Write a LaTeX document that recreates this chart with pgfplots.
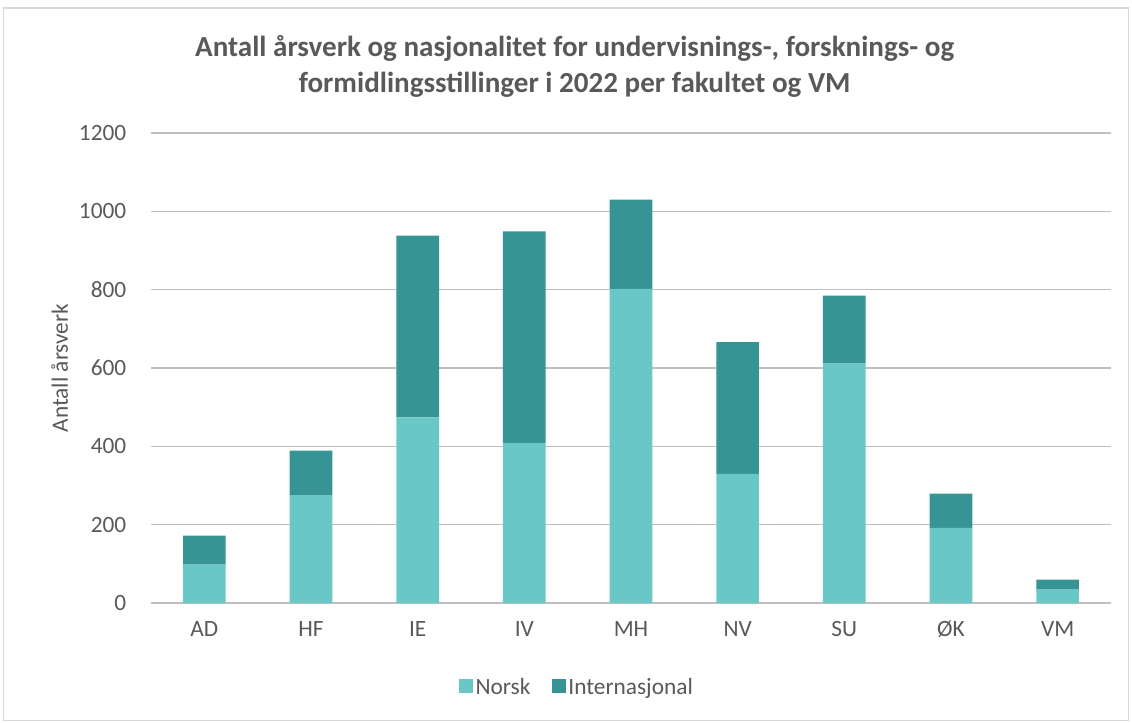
\documentclass[border=0pt]{standalone}
\usepackage{pgfplots}
\pgfplotsset{compat=1.18}
\usepackage{fontspec}
\setmainfont{Carlito}
\definecolor{norsk}{HTML}{69C8C6}
\definecolor{intl}{HTML}{369594}
\definecolor{txt}{HTML}{595959}
\definecolor{grid}{HTML}{D9D9D9}
\begin{document}
\begin{tikzpicture}
\useasboundingbox (0,0) rectangle (849pt,541.5pt);
\draw[grid, line width=0.8pt] (2.5pt,1pt) rectangle (846.5pt,535.5pt);
\node[font=\bfseries\fontsize{21.8}{27}\selectfont, text=txt, align=center] at (431pt,492pt)
  {Antall årsverk og nasjonalitet for undervisnings-, forsknings- og\\formidlingsstillinger i 2022 per fakultet og VM};
\begin{axis}[
  at={(113.25pt,89.25pt)}, anchor=south west,
  scale only axis, width=720pt, height=352.5pt,
  ybar stacked, bar width=32pt,
  xmin=-0.5, xmax=8.5, ymin=0, ymax=1200,
  ytick={0,200,...,1200},
  xtick={0,...,8},
  xticklabels={AD,HF,IE,IV,MH,NV,SU,ØK,VM},
  /pgf/number format/assume math mode=true,
  /pgf/number format/1000 sep={},
  xmajorgrids=false, ymajorgrids=true,
  grid style={grid, line width=1.1pt},
  axis line style={draw=none},
  tick style={draw=none},
  major tick length=0pt,
  tick label style={font=\fontsize{17.5}{20}\selectfont, text=txt},
  xticklabel style={yshift=-10pt},
  yticklabel style={xshift=-15pt},
  ylabel={Antall årsverk},
  ylabel style={font=\fontsize{17.5}{20}\selectfont, text=txt,
    at={(axis description cs:-0.095,0.5)}, rotate=0, anchor=center},
  legend style={at={(axis description cs:0.444,-0.179)}, anchor=center, draw=none,
    legend columns=2, font=\fontsize{17.5}{20}\selectfont, text=txt,
    /tikz/every even column/.append style={column sep=14pt}},
  legend image code/.code={\fill[#1] (0pt,-4.5pt) rectangle (10.5pt,6pt);},
  clip=false,
]
\addplot[fill=norsk, draw=none] coordinates {(0,98) (1,274) (2,474) (3,409) (4,802) (5,330) (6,611) (7,192) (8,34)};
\addplot[fill=intl, draw=none] coordinates {(0,74) (1,115) (2,464) (3,540) (4,228) (5,336) (6,174) (7,87) (8,26)};
\legend{Norsk,Internasjonal}
\end{axis}
\end{tikzpicture}
\end{document}
